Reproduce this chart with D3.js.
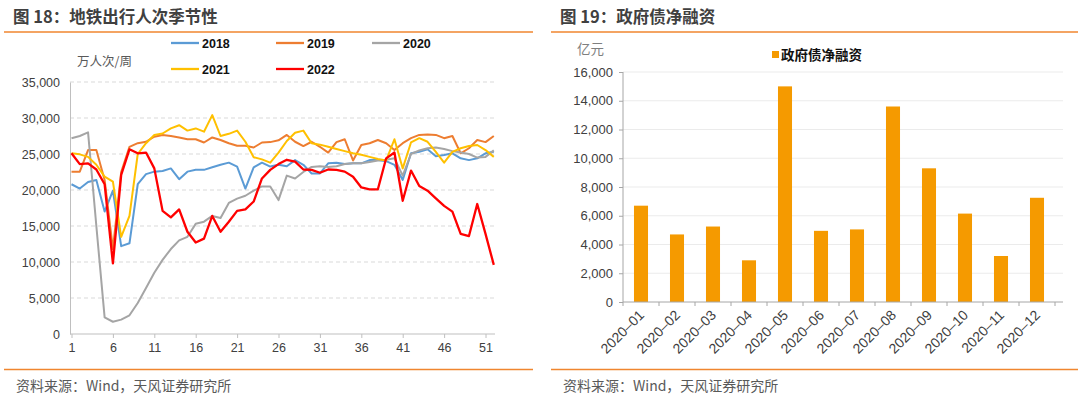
<!DOCTYPE html>
<html>
<head>
<meta charset="utf-8">
<script src="https://cdn.jsdelivr.net/npm/d3@7"></script>
<style>
  body { margin: 0; background: #fff; }
  svg { display: block; }
  text { font-family: "Liberation Sans", Arial, sans-serif; }
  .cn { font-family: "Noto Sans CJK SC", sans-serif; }
</style>
</head>
<body>
<div id="chart"></div>
<script>
// 地铁出行人次 (万人次/周), weeks 1..52
var weeks = d3.range(1, 53);
var s2018 = [20800, 20200, 21100, 21400, 17000, 19900, 12200, 12600, 20800, 22200, 22550, 22650, 23000, 21500, 22550, 22800, 22800, 23150, 23500, 23800, 23250, 20200, 23150, 23800, 23250, 23500, 23300, 24150, 23500, 22300, 22300, 23700, 23800, 23600, 23700, 23700, 24150, 24150, 24000, 23500, 21400, 25100, 25300, 25650, 24700, 24850, 25100, 24400, 24150, 24400, 25100, 25300];
var s2019 = [22550, 22550, 25550, 25550, 21400, 11800, 22500, 26000, 26500, 26700, 27400, 27650, 27500, 27300, 27050, 27050, 26600, 27300, 26950, 26500, 26150, 26150, 25900, 26600, 26650, 26900, 27650, 26700, 26100, 26700, 26000, 25200, 26650, 27050, 24100, 26250, 26500, 26950, 26500, 25550, 26500, 27200, 27650, 27700, 27650, 27200, 27500, 25100, 25800, 26950, 26650, 27500];
var s2020 = [27200, 27500, 28000, 15000, 2300, 1700, 2000, 2600, 4300, 6400, 8500, 10300, 11800, 13000, 13500, 15300, 15600, 16400, 16100, 18200, 18800, 19200, 19900, 20500, 20500, 18600, 22000, 21600, 22500, 23200, 23300, 23200, 23300, 23600, 23700, 23700, 23900, 24100, 24200, 24400, 22000, 25000, 25500, 25800, 25900, 25700, 25400, 25200, 25000, 24500, 24600, 25500];
var s2021 = [25100, 24950, 24600, 23500, 21850, 21150, 13500, 16400, 25000, 26500, 27650, 27850, 28550, 29000, 28250, 28550, 28100, 30400, 27500, 27800, 28250, 26700, 24550, 24250, 23800, 25200, 26800, 27950, 28250, 26500, 26300, 26000, 25700, 25400, 25100, 24900, 24600, 24300, 24100, 27050, 23000, 26600, 27200, 26700, 25300, 23800, 25300, 25800, 26100, 26250, 25550, 24600];
var s2022 = [25100, 23600, 23700, 22850, 20800, 9800, 22100, 25650, 25100, 25200, 23000, 17100, 16200, 17300, 14200, 12700, 13250, 16400, 14200, 15600, 17100, 17300, 18400, 21600, 22800, 23600, 24200, 23950, 22850, 22800, 22400, 22850, 22800, 22550, 21850, 20350, 20100, 20100, 24400, 25200, 18500, 22700, 20550, 19900, 18850, 17800, 17000, 13900, 13600, 18050, 13900, 9600];
var seriesNames = ["2018", "2019", "2020", "2021", "2022"];
var seriesColors = ["#5B9BD5", "#ED7D31", "#A5A5A5", "#FFC000", "#FF0000"];
var xTicksL = [1, 6, 11, 16, 21, 26, 31, 36, 41, 46, 51];
var yTicksL = [0, 5000, 10000, 15000, 20000, 25000, 30000, 35000];

// 政府债净融资 (亿元)
var months = ["2020–01", "2020–02", "2020–03", "2020–04", "2020–05", "2020–06", "2020–07", "2020–08", "2020–09", "2020–10", "2020–11", "2020–12"];
var netFinancing = [6700, 4700, 5250, 2900, 15000, 4950, 5050, 13600, 9300, 6150, 3200, 7250];
var yTicksR = [0, 2000, 4000, 6000, 8000, 10000, 12000, 14000, 16000];

var fmt = d3.format(",");
var svg = d3.select("#chart").append("svg")
    .attr("width", 1080)
    .attr("height", 398);

// titles and frame lines
function frame(x0, x1, title) {
    svg.append("text").attr("class", "cn")
        .attr("x", x0 + 9).attr("y", 23)
        .style("font-size", "16.5px").style("font-weight", "bold")
        .style("fill", "#404040")
        .text(title);
    svg.append("line").attr("x1", x0).attr("x2", x1).attr("y1", 32).attr("y2", 32)
        .style("stroke", "#F0862F").style("stroke-width", 1.6);
    svg.append("line").attr("x1", x0).attr("x2", x1).attr("y1", 369.5).attr("y2", 369.5)
        .style("stroke", "#F0862F").style("stroke-width", 1.3);
    svg.append("text").attr("class", "cn")
        .attr("x", x0 + 12).attr("y", 391)
        .style("font-size", "14px").style("fill", "#595959")
        .text("资料来源：Wind，天风证券研究所");
}
frame(4, 533, "图 18：地铁出行人次季节性");
frame(551, 1078, "图 19：政府债净融资");

// ---------- left: line chart ----------
var xL = d3.scaleLinear().domain([1, 52]).range([71.5, 493.8]);
var yL = d3.scaleLinear().domain([0, 35000]).range([334, 82]);

var gl = svg.append("g");
gl.selectAll("line.grid").data(yTicksL.slice(1)).enter().append("line")
    .attr("class", "grid")
    .attr("x1", 70).attr("x2", 495)
    .attr("y1", function (d) { return yL(d); }).attr("y2", function (d) { return yL(d); })
    .style("stroke", "#d9d9d9").style("stroke-dasharray", "4,3");

var axL = gl.append("g").attr("transform", "translate(0,334)")
    .call(d3.axisBottom(xL).tickValues(xTicksL).tickSize(4).tickPadding(5));
axL.select(".domain").attr("d", "M70,0H495").style("stroke", "#bfbfbf");
axL.selectAll(".tick line").style("stroke", "#bfbfbf");
axL.selectAll("text").style("font-size", "12.5px").style("fill", "#404040").style("font-family", "Liberation Sans, Arial, sans-serif");

var ayL = gl.append("g").attr("transform", "translate(70,0)")
    .call(d3.axisLeft(yL).tickValues(yTicksL).tickSize(0).tickPadding(10).tickFormat(fmt));
ayL.select(".domain").style("stroke", "#bfbfbf");
ayL.selectAll("text").style("font-size", "12.5px").style("fill", "#404040").style("font-family", "Liberation Sans, Arial, sans-serif");

gl.append("text").attr("class", "cn")
    .attr("x", 77).attr("y", 66)
    .style("font-size", "12.5px").style("fill", "#595959")
    .text("万人次/周");

var allSeries = [s2018, s2019, s2020, s2021, s2022];
var line = d3.line()
    .x(function (d, i) { return xL(weeks[i]); })
    .y(function (d) { return yL(d); });
allSeries.forEach(function (s, k) {
    gl.append("path")
        .datum(s)
        .attr("fill", "none")
        .attr("stroke", seriesColors[k])
        .attr("stroke-width", k == 4 ? 2.3 : 2)
        .attr("stroke-linejoin", "round")
        .attr("d", line);
});

// legend
var legPos = [[171, 47], [276, 47], [372, 47], [171, 73], [276, 73]];
seriesNames.forEach(function (n, k) {
    var p = legPos[k];
    gl.append("line")
        .attr("x1", p[0]).attr("x2", p[0] + 28)
        .attr("y1", p[1] - 4).attr("y2", p[1] - 4)
        .style("stroke", seriesColors[k]).style("stroke-width", 2.3);
    gl.append("text")
        .attr("x", p[0] + 31).attr("y", p[1] + 0.5)
        .style("font-size", "12.5px").style("font-weight", "bold").style("fill", "#111")
        .text(n);
});

// ---------- right: bar chart ----------
var xR = d3.scaleBand().domain(months).range([623, 1055]).paddingInner(0.61).paddingOuter(0.305);
var yR = d3.scaleLinear().domain([0, 16000]).range([302, 72]);

var gr = svg.append("g");
gr.selectAll("line.grid").data(yTicksR.slice(1)).enter().append("line")
    .attr("class", "grid")
    .attr("x1", 623).attr("x2", 1063)
    .attr("y1", function (d) { return yR(d); }).attr("y2", function (d) { return yR(d); })
    .style("stroke", "#ebebeb");

gr.selectAll("rect.bar").data(netFinancing).enter().append("rect")
    .attr("class", "bar")
    .attr("x", function (d, i) { return xR(months[i]); })
    .attr("width", xR.bandwidth())
    .attr("y", function (d) { return yR(d); })
    .attr("height", function (d) { return yR(0) - yR(d); })
    .style("fill", "#F59A00");

var ayR = gr.append("g").attr("transform", "translate(623,0)")
    .call(d3.axisLeft(yR).tickValues(yTicksR).tickSize(4).tickPadding(6).tickFormat(fmt));
ayR.select(".domain").attr("d", "M0,72V302").style("stroke", "#a6a6a6");
ayR.selectAll(".tick line").style("stroke", "#a6a6a6");
ayR.selectAll("text").style("font-size", "13px").style("fill", "#404040").style("font-family", "Liberation Sans, Arial, sans-serif");

var axR = gr.append("g").attr("transform", "translate(0,302)");
axR.append("line").attr("x1", 623).attr("x2", 1063).attr("y1", 0).attr("y2", 0)
    .style("stroke", "#a6a6a6");
var step = xR.step();
axR.selectAll("line.tk").data(d3.range(months.length + 1)).enter().append("line")
    .attr("class", "tk")
    .attr("x1", function (i) { return 623 + i * step; })
    .attr("x2", function (i) { return 623 + i * step; })
    .attr("y1", 0).attr("y2", 4)
    .style("stroke", "#a6a6a6");
axR.selectAll("text").data(months).enter().append("text")
    .attr("transform", function (d) {
        return "translate(" + (xR(d) + xR.bandwidth() / 2 + 4) + ",14) rotate(-45)";
    })
    .style("text-anchor", "end")
    .style("font-size", "14px").style("fill", "#404040")
    .text(function (d) { return d; });

gr.append("text").attr("class", "cn")
    .attr("x", 577).attr("y", 54)
    .style("font-size", "13.5px").style("fill", "#7f7f7f")
    .text("亿元");
gr.append("rect").attr("x", 772).attr("y", 51).attr("width", 7).attr("height", 7)
    .style("fill", "#F59A00");
gr.append("text").attr("class", "cn")
    .attr("x", 781).attr("y", 59.5)
    .style("font-size", "13.5px").style("font-weight", "bold").style("fill", "#111")
    .text("政府债净融资");
</script>
</body>
</html>
